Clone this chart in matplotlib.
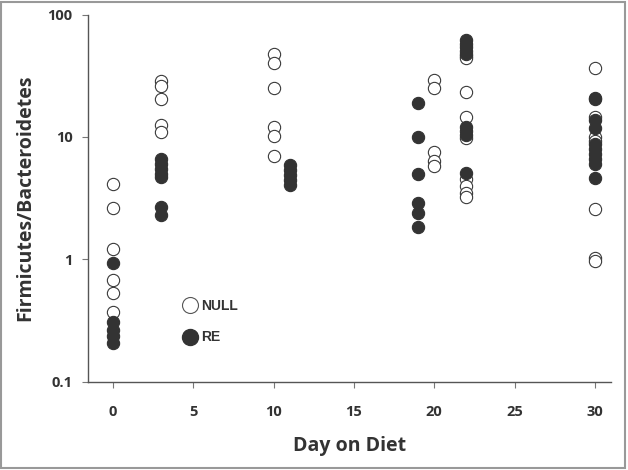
import matplotlib
matplotlib.use("Agg")
import matplotlib.pyplot as plt
from matplotlib.patches import Rectangle
from matplotlib.lines import Line2D

# values (log scale)
null_days = [0] * 6 + [3] * 5 + [10] * 6 + [20] * 5 + [22] * 9 + [30] * 7
null_vals = [4.15, 2.62, 1.22, 0.68, 0.53, 0.37,
             28.5, 26.0, 20.3, 12.6, 10.9,
             48.0, 40.0, 25.0, 12.0, 10.2, 7.0,
             29.3, 25.0, 7.5, 6.3, 5.8,
             46.0, 44.0, 23.5, 14.5, 9.8, 4.5, 3.95, 3.5, 3.2,
             36.5, 14.5, 9.9, 9.3, 2.6, 1.02, 0.96]
re_days = [0] * 5 + [3] * 7 + [11] * 5 + [19] * 6 + [22] * 9 + [30] * 10
re_vals = [0.93, 0.31, 0.265, 0.235, 0.205,
           6.6, 6.0, 5.5, 5.0, 4.7, 2.65, 2.3,
           5.9, 5.4, 4.9, 4.45, 4.05,
           18.9, 10.05, 5.0, 2.87, 2.38, 1.85,
           62.0, 58.0, 54.0, 50.0, 48.0, 12.1, 11.2, 10.3, 5.05,
           21.0, 20.3, 13.7, 11.8, 8.8, 8.0, 7.3, 6.6, 6.0, 4.6]

x_ticks = [0, 5, 10, 15, 20, 25, 30]
y_ticks = [0.1, 1, 10, 100]
y_ticklabels = ["0.1", "1", "10", "100"]

txt = "#333333"
fig = plt.figure(figsize=(6.28, 4.70), dpi=100)
ax = fig.add_axes([0.140, 0.188, 0.833, 0.781])

ax.scatter(null_days, null_vals, s=78, facecolor="white", edgecolor="#3a3a3a", linewidth=0.8, zorder=2)
ax.scatter(re_days, re_vals, s=78, facecolor="#333333", edgecolor="#333333", linewidth=0.8, zorder=3)

ax.set_yscale("log")
ax.set_ylim(0.1, 100)
ax.set_xlim(-1.55, 31.0)
ax.set_xticks(x_ticks)
ax.set_yticks(y_ticks)
ax.set_yticklabels(y_ticklabels)
ax.minorticks_off()

for s in ["top", "right"]:
    ax.spines[s].set_visible(False)
for s in ["left", "bottom"]:
    ax.spines[s].set_color("#555555")
    ax.spines[s].set_linewidth(1.0)

ax.tick_params(axis="x", length=4, color="#777777", pad=13, labelsize=10.5, labelcolor=txt)
ax.tick_params(axis="y", length=4, color="#777777", pad=7, labelsize=10.5, labelcolor=txt)
for lab in ax.get_xticklabels() + ax.get_yticklabels():
    lab.set_fontfamily("Open Sans")
    lab.set_fontweight("bold")

ax.set_xlabel("Day on Diet", fontfamily="Open Sans", fontweight="bold", fontsize=14, color=txt, labelpad=12)
ax.set_ylabel("Firmicutes/Bacteroidetes", fontfamily="Open Sans", fontweight="bold", fontsize=14, color=txt, labelpad=9)

handles = [
    Line2D([], [], marker="o", ls="none", markersize=11.5, markerfacecolor="white", markeredgecolor="#555555", markeredgewidth=0.8),
    Line2D([], [], marker="o", ls="none", markersize=11.5, markerfacecolor="#333333", markeredgecolor="#333333"),
]
leg = ax.legend(handles, ["NULL", "RE"], loc="center left", bbox_to_anchor=(0.155, 0.163),
                frameon=False, handletextpad=0.2, labelspacing=1.25, handlelength=1.2,
                prop={"family": "Liberation Sans", "weight": "bold", "size": 10})
for t in leg.get_texts():
    t.set_color(txt)

fig.patches.append(Rectangle((0.002, 0.004), 0.994, 0.992, transform=fig.transFigure,
                             fill=False, edgecolor="#999999", linewidth=1.5))

fig.savefig("out.png", dpi=100)
